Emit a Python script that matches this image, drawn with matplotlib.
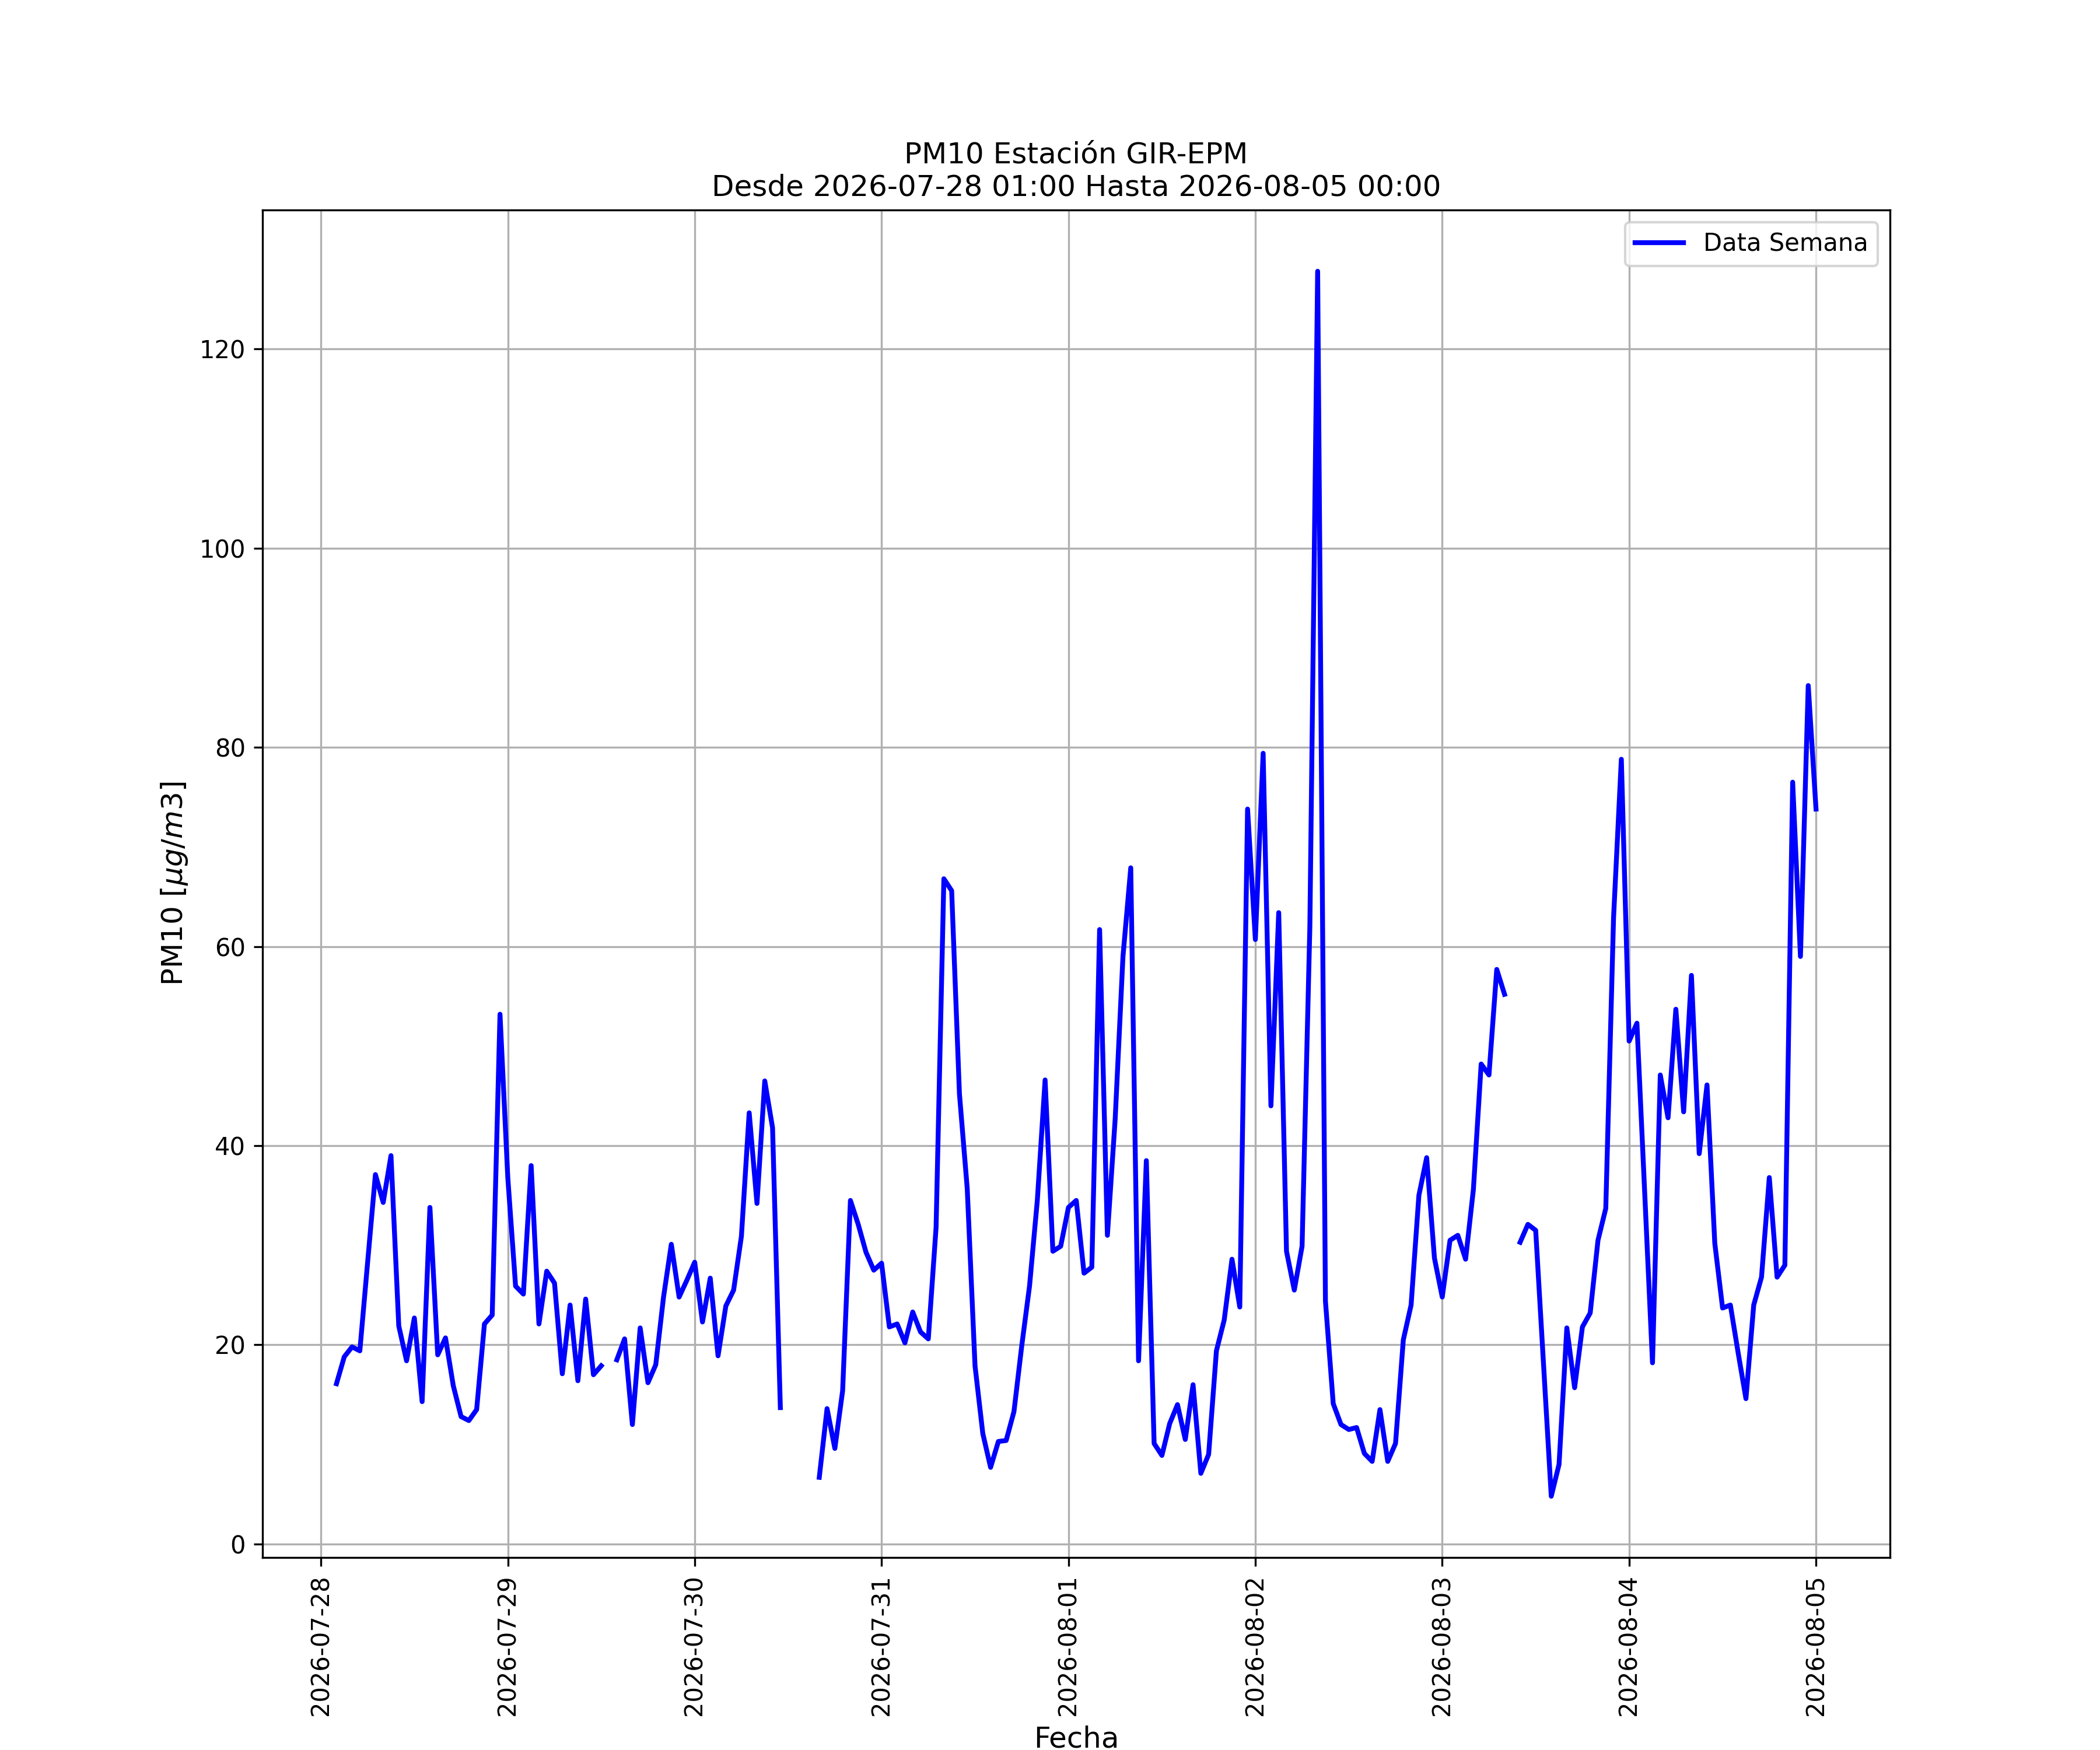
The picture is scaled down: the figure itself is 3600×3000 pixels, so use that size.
import numpy as np
import pandas as pd
import matplotlib
matplotlib.use("Agg")
import matplotlib.pyplot as plt

nan = np.nan

# PM10 hourly values per day (first day starts at 02:00)
day_0728 = [16.1, 18.8, 19.8, 19.4, 28.3, 37.1, 34.3, 39.0, 21.9, 18.4, 22.7,
            14.3, 33.8, 19.0, 20.7, 15.9, 12.8, 12.4, 13.5, 22.1, 23.0, 53.2]
day_0729 = [36.8, 25.9, 25.1, 38.0, 22.1, 27.4, 26.2, 17.1, 24.0, 16.4, 24.6, 17.0,
            17.9, nan, 18.5, 20.6, 12.0, 21.7, 16.2, 18.0, 24.8, 30.1, 24.8, 26.5]
day_0730 = [28.3, 22.3, 26.7, 18.9, 23.9, 25.5, 30.9, 43.3, 34.2, 46.5, 41.8, 13.7,
            nan, nan, nan, nan, 6.7, 13.6, 9.6, 15.4, 34.5, 32.1, 29.3, 27.5]
day_0731 = [28.2, 21.8, 22.1, 20.2, 23.3, 21.3, 20.6, 31.8, 66.8, 65.6, 45.2, 35.7,
            17.9, 11.1, 7.7, 10.3, 10.4, 13.3, 19.9, 25.9, 34.5, 46.6, 29.4, 29.9]
day_0801 = [33.8, 34.5, 27.2, 27.8, 61.7, 31.0, 42.7, 59.0, 67.9, 18.4, 38.5, 10.1,
            8.9, 12.1, 14.0, 10.5, 16.0, 7.1, 9.0, 19.4, 22.5, 28.6, 23.8, 73.8]
day_0802 = [60.7, 79.4, 44.0, 63.4, 29.4, 25.5, 29.9, 62.0, 127.8, 24.4, 14.1, 12.0,
            11.5, 11.7, 9.1, 8.3, 13.5, 8.3, 10.1, 20.5, 24.0, 35.0, 38.8, 28.7]
day_0803 = [24.8, 30.5, 31.0, 28.6, 35.6, 48.2, 47.1, 57.7, 55.2, nan, 30.3, 32.1,
            31.5, 18.2, 4.8, 8.0, 21.7, 15.7, 21.8, 23.2, 30.5, 33.7, 62.9, 78.8]
day_0804 = [50.5, 52.3, 35.3, 18.2, 47.1, 42.8, 53.7, 43.4, 57.1, 39.2, 46.1, 30.2,
            23.7, 24.0, 19.2, 14.6, 24.0, 26.8, 36.8, 26.8, 28.0, 76.5, 59.0, 86.2]
day_0805 = [73.8]

valores = (day_0728 + day_0729 + day_0730 + day_0731 + day_0801 +
           day_0802 + day_0803 + day_0804 + day_0805)
fechas = pd.date_range("2026-07-28 02:00", periods=len(valores), freq="h")

df = pd.DataFrame({"fecha": fechas, "pm10": valores})

fig = plt.figure(figsize=(12, 10), dpi=300)
ax = fig.add_subplot(111)
ax.plot(df["fecha"], df["pm10"], color="blue", linewidth=2, label="Data Semana")
ax.set_title("PM10 Estación GIR-EPM\nDesde 2026-07-28 01:00 Hasta 2026-08-05 00:00",
             fontsize=12)
ax.set_xlabel("Fecha", fontsize=12)
ax.set_ylabel(r"PM10 [$\mu g/m3$]", fontsize=12)
ax.grid(True)
ax.legend(loc="upper right")
plt.xticks(rotation=90)

fig.savefig("out.png")
